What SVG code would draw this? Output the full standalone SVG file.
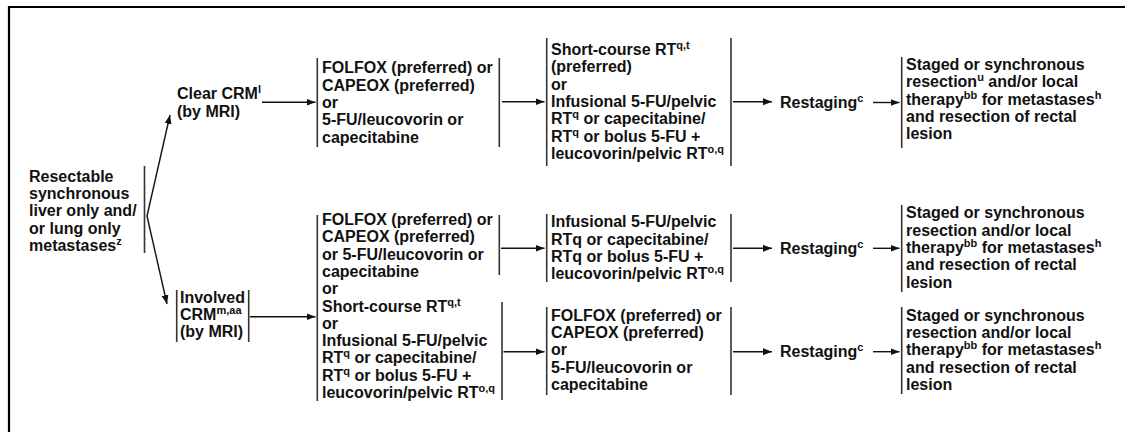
<svg xmlns="http://www.w3.org/2000/svg" width="1125" height="432" viewBox="0 0 1125 432">
<style>
.t{font-family:"Liberation Sans",Arial,sans-serif;font-weight:bold;font-size:16px;fill:#111}
.s{font-size:11px}
.br{stroke:#333;stroke-width:1.6;fill:none}
.c{stroke:#111;stroke-width:1.4;fill:none;marker-end:url(#ah)}
.frame{stroke:#000;stroke-width:2.2;fill:none}
</style>
<defs>
<marker id="ah" markerUnits="userSpaceOnUse" markerWidth="10" markerHeight="8" refX="9" refY="3.5" orient="auto">
<path d="M0,0 L9,3.5 L0,7 z" fill="#111"/>
</marker>
</defs>
<rect width="1125" height="432" fill="#fff"/>
<path class="frame" d="M9,432 L9,7 L1125,7"/>

<g id="node-start">
<line class="br" x1="144.5" y1="166" x2="144.5" y2="253"/>
<text class="t"><tspan x="29" y="181.7">Resectable</tspan><tspan x="29" y="199">synchronous</tspan><tspan x="29" y="216.3">liver only and/</tspan><tspan x="29" y="233.6">or lung only</tspan><tspan x="29" y="250.9">metastases<tspan class="s" dy="-6">z</tspan></tspan></text>
</g>

<g id="node-clear">
<text class="t"><tspan x="177" y="99">Clear CRM<tspan class="s" dy="-6">l</tspan></tspan><tspan x="177" y="116.5">(by MRI)</tspan></text>
</g>

<g id="node-involved">
<line class="br" x1="176.7" y1="290" x2="176.7" y2="342"/>
<line class="br" x1="248.7" y1="290" x2="248.7" y2="342"/>
<text class="t"><tspan x="180" y="302.7">Involved</tspan><tspan x="180" y="320">CRM<tspan class="s" dy="-6">m,aa</tspan></tspan><tspan x="180" y="337.3">(by MRI)</tspan></text>
</g>

<g id="node-chemo-top">
<line class="br" x1="317.3" y1="58" x2="317.3" y2="147"/>
<line class="br" x1="499.3" y1="58" x2="499.3" y2="147"/>
<text class="t"><tspan x="322" y="73.3">FOLFOX (preferred) or</tspan><tspan x="322" y="90.6">CAPEOX (preferred)</tspan><tspan x="322" y="107.9">or</tspan><tspan x="322" y="125.2">5-FU/leucovorin or</tspan><tspan x="322" y="142.5">capecitabine</tspan></text>
</g>

<g id="node-rt-top">
<line class="br" x1="546.7" y1="38" x2="546.7" y2="166"/>
<line class="br" x1="731" y1="38" x2="731" y2="166"/>
<text class="t"><tspan x="551" y="55">Short-course RT<tspan class="s" dy="-6">q,t</tspan></tspan><tspan x="551" y="72.3">(preferred)</tspan><tspan x="551" y="89.6">or</tspan><tspan x="551" y="106.9">Infusional 5-FU/pelvic</tspan><tspan x="551" y="124.2">RT<tspan class="s" dy="-6">q</tspan><tspan dy="6"> or capecitabine/</tspan></tspan><tspan x="551" y="141.5">RT<tspan class="s" dy="-6">q</tspan><tspan dy="6"> or bolus 5-FU +</tspan></tspan><tspan x="551" y="158.8">leucovorin/pelvic RT<tspan class="s" dy="-6">o,q</tspan></tspan></text>
</g>

<g id="node-restaging-top">
<text class="t" x="780" y="107.5">Restaging<tspan class="s" dy="-6">c</tspan></text>
</g>

<g id="node-resect-top">
<line class="br" x1="901.7" y1="57" x2="901.7" y2="148"/>
<text class="t"><tspan x="906" y="70">Staged or synchronous</tspan><tspan x="906" y="87.3">resection<tspan class="s" dy="-6">u</tspan><tspan dy="6"> and/or local</tspan></tspan><tspan x="906" y="104.6">therapy<tspan class="s" dy="-6">bb</tspan><tspan dy="6"> for metastases</tspan><tspan class="s" dy="-6">h</tspan></tspan><tspan x="906" y="121.9">and resection of rectal</tspan><tspan x="906" y="139.2">lesion</tspan></text>
</g>

<g id="node-options-bottom">
<line class="br" x1="317.3" y1="215" x2="317.3" y2="401"/>
<line class="br" x1="499.3" y1="215" x2="499.3" y2="275"/>
<line class="br" x1="502" y1="302" x2="502" y2="400"/>
<text class="t"><tspan x="322" y="225">FOLFOX (preferred) or</tspan><tspan x="322" y="242.3">CAPEOX (preferred)</tspan><tspan x="322" y="259.6">or 5-FU/leucovorin or</tspan><tspan x="322" y="276.9">capecitabine</tspan><tspan x="322" y="294.2">or</tspan><tspan x="322" y="311.5">Short-course RT<tspan class="s" dy="-6">q,t</tspan></tspan><tspan x="322" y="328.8">or</tspan><tspan x="322" y="346.1">Infusional 5-FU/pelvic</tspan><tspan x="322" y="363.4">RT<tspan class="s" dy="-6">q</tspan><tspan dy="6"> or capecitabine/</tspan></tspan><tspan x="322" y="380.7">RT<tspan class="s" dy="-6">q</tspan><tspan dy="6"> or bolus 5-FU +</tspan></tspan><tspan x="322" y="398">leucovorin/pelvic RT<tspan class="s" dy="-6">o,q</tspan></tspan></text>
</g>

<g id="node-rt-mid">
<line class="br" x1="546.7" y1="214" x2="546.7" y2="282"/>
<line class="br" x1="731" y1="214" x2="731" y2="282"/>
<text class="t"><tspan x="551" y="227.3">Infusional 5-FU/pelvic</tspan><tspan x="551" y="244.6">RTq or capecitabine/</tspan><tspan x="551" y="261.9">RTq or bolus 5-FU +</tspan><tspan x="551" y="279.2">leucovorin/pelvic RT<tspan class="s" dy="-6">o,q</tspan></tspan></text>
</g>

<g id="node-chemo-bottom">
<line class="br" x1="546.7" y1="307" x2="546.7" y2="395"/>
<line class="br" x1="731" y1="307" x2="731" y2="395"/>
<text class="t"><tspan x="551" y="320.7">FOLFOX (preferred) or</tspan><tspan x="551" y="338">CAPEOX (preferred)</tspan><tspan x="551" y="355.3">or</tspan><tspan x="551" y="372.6">5-FU/leucovorin or</tspan><tspan x="551" y="389.9">capecitabine</tspan></text>
</g>

<g id="node-restaging-mid">
<text class="t" x="780" y="254">Restaging<tspan class="s" dy="-6">c</tspan></text>
</g>

<g id="node-restaging-bottom">
<text class="t" x="780" y="357">Restaging<tspan class="s" dy="-6">c</tspan></text>
</g>

<g id="node-resect-mid">
<line class="br" x1="901.7" y1="205" x2="901.7" y2="292"/>
<text class="t"><tspan x="906" y="218.3">Staged or synchronous</tspan><tspan x="906" y="235.6">resection and/or local</tspan><tspan x="906" y="252.9">therapy<tspan class="s" dy="-6">bb</tspan><tspan dy="6"> for metastases</tspan><tspan class="s" dy="-6">h</tspan></tspan><tspan x="906" y="270.2">and resection of rectal</tspan><tspan x="906" y="287.5">lesion</tspan></text>
</g>

<g id="node-resect-bottom">
<line class="br" x1="901.7" y1="307" x2="901.7" y2="394"/>
<text class="t"><tspan x="906" y="320.7">Staged or synchronous</tspan><tspan x="906" y="338">resection and/or local</tspan><tspan x="906" y="355.3">therapy<tspan class="s" dy="-6">bb</tspan><tspan dy="6"> for metastases</tspan><tspan class="s" dy="-6">h</tspan></tspan><tspan x="906" y="372.6">and resection of rectal</tspan><tspan x="906" y="389.9">lesion</tspan></text>
</g>

<g id="connectors">
<line class="c" x1="147" y1="216" x2="170" y2="115"/>
<line class="c" x1="147" y1="216" x2="167" y2="304"/>
<line class="c" x1="262" y1="102.3" x2="315.5" y2="102.3"/>
<line class="c" x1="250" y1="316.7" x2="315.5" y2="316.7"/>
<line class="c" x1="502" y1="101.7" x2="544.5" y2="101.7"/>
<line class="c" x1="733" y1="101.7" x2="772" y2="101.7"/>
<line class="c" x1="873" y1="102.5" x2="899.5" y2="102.5"/>
<line class="c" x1="501" y1="248.3" x2="544.5" y2="248.3"/>
<line class="c" x1="503.5" y1="351.7" x2="544.5" y2="351.7"/>
<line class="c" x1="733" y1="248.3" x2="772" y2="248.3"/>
<line class="c" x1="733" y1="351.7" x2="772" y2="351.7"/>
<line class="c" x1="873" y1="248.3" x2="899.5" y2="248.3"/>
<line class="c" x1="873" y1="351.7" x2="899.5" y2="351.7"/>
</g>
</svg>
